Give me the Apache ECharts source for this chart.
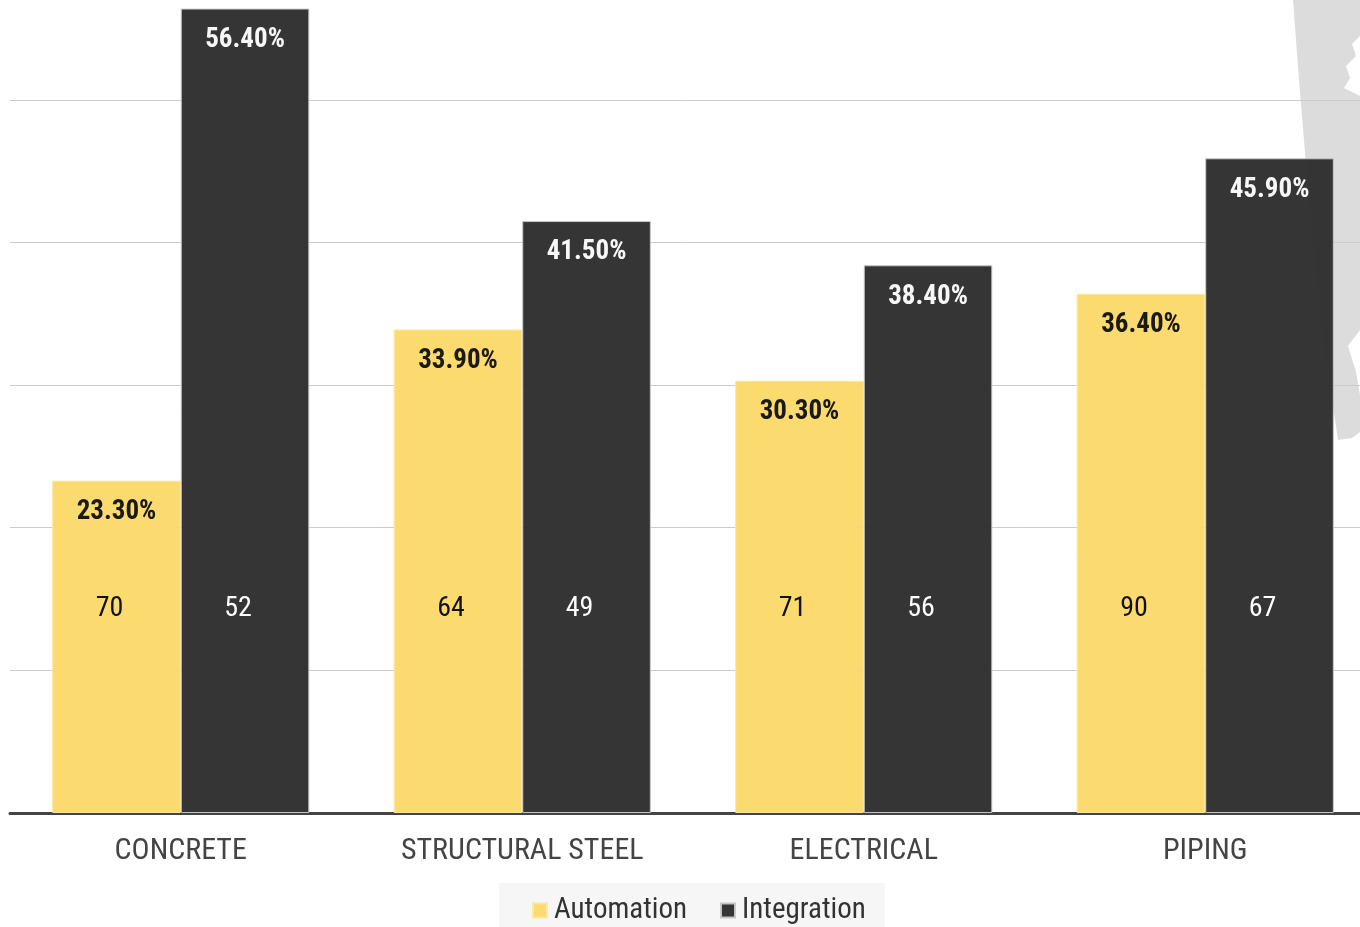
<!DOCTYPE html>
<html>
<head>
<meta charset="utf-8">
<script src="https://cdn.jsdelivr.net/npm/echarts@6/dist/echarts.min.js"></script>
<style>
html,body{margin:0;padding:0;background:#fff;}
#chart{width:1360px;height:927px;}
</style>
</head>
<body>
<div id="chart"></div>
<script>
const categories = ['CONCRETE', 'STRUCTURAL STEEL', 'ELECTRICAL', 'PIPING'];
const automationPct = [23.3, 33.9, 30.3, 36.4];
const integrationPct = [56.4, 41.5, 38.4, 45.9];
const automationCount = [70, 64, 71, 90];
const integrationCount = [52, 49, 56, 67];
const seriesNames = ['Automation', 'Integration'];

const FONT = "'Roboto Condensed', 'Liberation Sans Narrow', 'Arial Narrow', 'DejaVu Sans Condensed', sans-serif";
const COUNT_LEVEL = 14.3;

function countMarks(counts, color) {
  return {
    symbol: 'rect',
    symbolSize: 1,
    itemStyle: { color: 'rgba(0,0,0,0)' },
    label: { show: true, position: 'inside', formatter: '{c}', color: color, fontSize: 28, fontFamily: FONT, offset: [-7, 0] },
    data: counts.map((c, i) => ({ coord: [categories[i], COUNT_LEVEL], value: c }))
  };
}

const chart = echarts.init(document.getElementById('chart'), null, { renderer: 'canvas' });
chart.setOption({
  backgroundColor: '#ffffff',
  animation: false,
  graphic: [{
    type: 'polygon',
    z: -10,
    silent: true,
    shape: { points: [[1293,0],[1360,0],[1360,432],[1352,438],[1338,440],[1322,330],[1309,200],[1299,80]] },
    style: { fill: '#dcdcdc' }
  }, {
    type: 'polygon',
    z: -9,
    silent: true,
    shape: { points: [[1360,36],[1352,44],[1356,56],[1346,66],[1350,78],[1344,88],[1360,96]] },
    style: { fill: '#ffffff' }
  }, {
    type: 'polygon',
    z: -9,
    silent: true,
    shape: { points: [[1360,330],[1348,346],[1356,372],[1360,395]] },
    style: { fill: '#ffffff' }
  }],
  grid: { left: 10, width: 1366, top: 0, height: 813, containLabel: false, outerBoundsMode: 'none' },
  legend: {
    data: seriesNames,
    left: 499,
    top: 883,
    itemWidth: 14,
    itemHeight: 14,
    itemGap: 33,
    icon: 'rect',
    backgroundColor: '#f6f6f6',
    padding: [13, 19, 10, 33],
    textStyle: { fontSize: 29, color: '#333', fontFamily: FONT, padding: [0, 0, 0, 2] }
  },
  xAxis: {
    type: 'category',
    data: categories,
    axisLine: { lineStyle: { color: '#444', width: 3 } },
    axisTick: { show: false },
    axisLabel: { color: '#444', fontSize: 30, fontFamily: FONT, margin: 23 }
  },
  yAxis: {
    type: 'value',
    min: 0,
    max: 57,
    interval: 10,
    axisLine: { show: false },
    axisTick: { show: false },
    axisLabel: { show: false },
    splitLine: { showMaxLine: false, lineStyle: { color: '#cccccc', width: 1 } }
  },
  series: [{
    name: seriesNames[0],
    type: 'bar',
    data: automationPct,
    barGap: '0%',
    barCategoryGap: '24.7%',
    itemStyle: { color: '#fbda69', opacity: 0.96, borderColor: '#fde79e', borderWidth: 1 },
    label: { show: true, position: 'insideTop', distance: 18, color: '#111', fontSize: 27, fontWeight: 'bold', fontFamily: FONT, formatter: p => p.value.toFixed(2) + '%' },
    markPoint: countMarks(automationCount, '#111')
  }, {
    name: seriesNames[1],
    type: 'bar',
    data: integrationPct,
    itemStyle: { color: '#2d2d2d', opacity: 0.96, borderColor: '#c8c8c8', borderWidth: 1 },
    label: { show: true, position: 'insideTop', distance: 18, color: '#fff', fontSize: 27, fontWeight: 'bold', fontFamily: FONT, formatter: p => p.value.toFixed(2) + '%' },
    markPoint: countMarks(integrationCount, '#fff')
  }]
});
</script>
</body>
</html>
